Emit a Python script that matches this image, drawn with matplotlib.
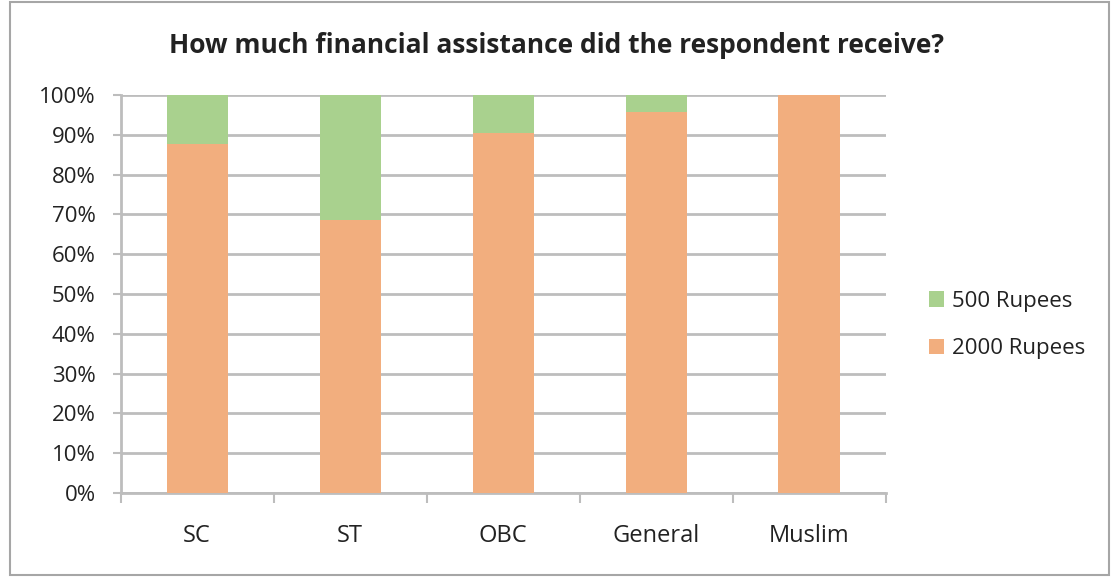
import matplotlib
matplotlib.use("Agg")
import matplotlib.pyplot as plt
from matplotlib.patches import Rectangle
from matplotlib.ticker import FixedLocator, PercentFormatter

categories = ["SC", "ST", "OBC", "General", "Muslim"]
rupees_2000 = [87.7, 68.6, 90.4, 95.6, 100.0]
rupees_500 = [12.3, 31.4, 9.6, 4.4, 0.0]

orange = "#F2AE7E"
green = "#A9D18E"
grid_col = "#BDBDBD"
text_col = "#222222"

plt.rcParams["font.family"] = ["Open Sans", "DejaVu Sans"]

fig = plt.figure(figsize=(11.11, 5.77), dpi=100)
ax = fig.add_axes([0.1086, 0.1456, 0.6885, 0.6898])

x = list(range(len(categories)))
ax.bar(x, rupees_2000, width=0.40, color=orange, label="2000 Rupees", zorder=3)
ax.bar(x, rupees_500, width=0.40, bottom=rupees_2000, color=green,
       label="500 Rupees", zorder=3)

ax.set_xlim(-0.5, len(categories) - 0.5)
ax.set_ylim(0, 100)
ax.set_yticks(range(0, 101, 10))
ax.yaxis.set_major_formatter(PercentFormatter(decimals=0))
ax.yaxis.grid(True, color=grid_col, linewidth=2.0, zorder=0)
ax.set_axisbelow(True)

ax.set_xticks(x)
ax.set_xticklabels(categories)
ax.xaxis.set_minor_locator(FixedLocator([i - 0.5 for i in range(len(categories) + 1)]))
ax.tick_params(axis="x", which="major", length=0, pad=22, labelsize=17, labelcolor=text_col)
ax.tick_params(axis="x", which="minor", length=7, width=1.5, color=grid_col, direction="out")
ax.tick_params(axis="y", length=6, width=1.5, color=grid_col, pad=12, labelsize=16,
               labelcolor=text_col)

for side in ("top", "right"):
    ax.spines[side].set_visible(False)
for side in ("left", "bottom"):
    ax.spines[side].set_color(grid_col)
    ax.spines[side].set_linewidth(2.0)

fig.text(0.501, 0.922, "How much financial assistance did the respondent receive?",
         ha="center", va="center", fontsize=19, fontweight="bold", color=text_col)

handles, labels = ax.get_legend_handles_labels()
leg = fig.legend(handles[::-1], labels[::-1], loc="center left",
                 bbox_to_anchor=(0.818, 0.437), frameon=False, fontsize=16,
                 handlelength=0.7, handleheight=0.7, handletextpad=0.35,
                 labelspacing=1.2, labelcolor=text_col)

fig.patches.append(Rectangle((0.009, 0.004), 0.989, 0.992, transform=fig.transFigure,
                             fill=False, edgecolor="#A6A6A6", linewidth=1.5))

fig.savefig("out.png", dpi=100)
